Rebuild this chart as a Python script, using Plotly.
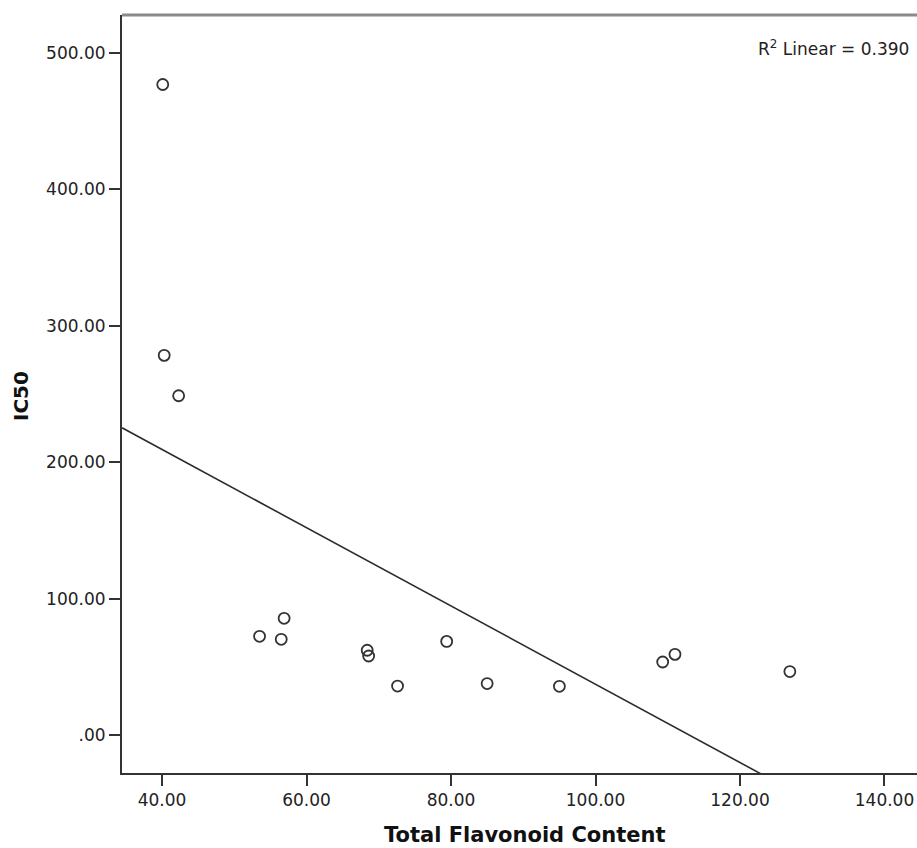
import numpy as np
import plotly.graph_objects as go

# Data
flavonoid = [40.1, 40.3, 42.3, 53.5, 56.5, 56.9, 68.4, 68.6, 72.6, 79.4, 85.0, 95.0, 109.3, 111.0, 126.9]
ic50 = [476.7, 278.3, 248.7, 72.5, 70.3, 85.7, 62.3, 58.1, 36.1, 68.8, 37.9, 35.9, 53.7, 59.3, 46.7]

x_tickvals = [40, 60, 80, 100, 120, 140]
x_ticktext = ["40.00", "60.00", "80.00", "100.00", "120.00", "140.00"]
y_tickvals = [0, 100, 200, 300, 400, 500]
y_ticktext = [".00", "100.00", "200.00", "300.00", "400.00", "500.00"]

x_range = [34.46, 144.5]
y_range = [-27.6, 527.6]
r2_label = "R<sup>2</sup> Linear = 0.390"

slope, intercept = np.polyfit(flavonoid, ic50, 1)
fit_x = np.array(x_range)
fit_y = slope * fit_x + intercept

W, H = 917, 848
ml, mr, mt, mb = 122, 0, 15, 75

fig = go.Figure()
fig.add_trace(go.Scatter(
    x=fit_x, y=fit_y, mode="lines",
    line=dict(color="#2b2b2b", width=1.6),
    hoverinfo="skip", showlegend=False,
))
fig.add_trace(go.Scatter(
    x=flavonoid, y=ic50, mode="markers",
    marker=dict(symbol="circle-open", size=11, color="#333333",
                line=dict(width=1.8, color="#333333")),
    showlegend=False,
))

tick_font = dict(family="DejaVu Sans", size=17, color="#222222")
fig.update_xaxes(
    range=x_range, tickvals=x_tickvals, ticktext=x_ticktext,
    showgrid=False, zeroline=False, showline=True, linecolor="#333333", linewidth=2,
    ticks="outside", ticklen=11, tickwidth=2, tickcolor="#333333",
    tickfont=tick_font,
)
fig.update_yaxes(
    range=y_range, tickvals=y_tickvals, ticktext=y_ticktext,
    showgrid=False, zeroline=False, showline=True, linecolor="#333333", linewidth=2,
    ticks="outside", ticklen=11, tickwidth=2, tickcolor="#333333",
    tickfont=tick_font,
)

plot_w = W - ml - mr
plot_h = H - mt - mb

def px_to_paper_x(px):
    return (px - ml) / plot_w

def px_to_paper_y(py):
    return (H - mb - py) / plot_h

fig.add_shape(type="line", xref="paper", yref="paper", x0=0, x1=1.01, y0=1, y1=1,
              line=dict(color="#8a8a8a", width=3))

fig.add_annotation(
    text=r2_label, xref="paper", yref="paper",
    x=px_to_paper_x(911), y=px_to_paper_y(48), xanchor="right", yanchor="middle",
    showarrow=False, font=dict(family="DejaVu Sans", size=17, color="#222222"),
)
fig.add_annotation(
    text="<b>Total Flavonoid Content</b>", xref="paper", yref="paper",
    x=px_to_paper_x(525), y=px_to_paper_y(835), xanchor="center", yanchor="middle",
    showarrow=False, font=dict(family="DejaVu Sans", size=21, color="#111111"),
)
fig.add_annotation(
    text="<b>IC50</b>", xref="paper", yref="paper", textangle=-90,
    x=px_to_paper_x(21), y=px_to_paper_y(396), xanchor="center", yanchor="middle",
    showarrow=False, font=dict(family="DejaVu Sans", size=20, color="#111111"),
)

fig.update_layout(
    width=W, height=H,
    margin=dict(l=ml, r=mr, t=mt, b=mb, pad=0),
    paper_bgcolor="white", plot_bgcolor="white",
)

fig.write_html("out.html")
